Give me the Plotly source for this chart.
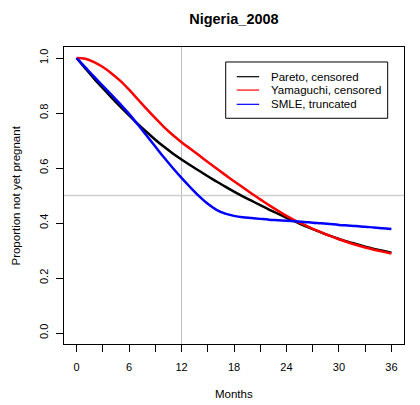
import plotly.graph_objects as go

# Months since start of exposure
months = list(range(0, 37))

# Survival curves: proportion not yet pregnant
pareto_censored = [1.000, 0.962, 0.925, 0.890, 0.856, 0.823, 0.791, 0.760, 0.731, 0.703,
                   0.677, 0.653, 0.631, 0.610, 0.590, 0.570, 0.551, 0.532, 0.514, 0.497,
                   0.481, 0.465, 0.449, 0.434, 0.419, 0.405, 0.391, 0.378, 0.365, 0.353,
                   0.342, 0.332, 0.323, 0.314, 0.306, 0.299, 0.292]
yamaguchi_censored = [1.000, 0.997, 0.985, 0.967, 0.944, 0.917, 0.885, 0.850, 0.815, 0.781,
                      0.749, 0.720, 0.694, 0.670, 0.646, 0.622, 0.598, 0.575, 0.552, 0.530,
                      0.507, 0.486, 0.465, 0.445, 0.426, 0.409, 0.394, 0.379, 0.366, 0.353,
                      0.341, 0.330, 0.320, 0.311, 0.303, 0.296, 0.289]
smle_truncated = [1.000, 0.966, 0.932, 0.899, 0.866, 0.832, 0.797, 0.758, 0.718, 0.678,
                  0.638, 0.600, 0.564, 0.530, 0.498, 0.470, 0.448, 0.434, 0.426, 0.421,
                  0.418, 0.415, 0.412, 0.410, 0.408, 0.406, 0.404, 0.401, 0.399, 0.396,
                  0.393, 0.391, 0.389, 0.386, 0.384, 0.381, 0.378]

series_names = ["Pareto, censored", "Yamaguchi, censored", "SMLE, truncated"]
series_colors = ["black", "red", "blue"]

x_tick_vals = list(range(0, 37, 3))
x_tick_text = ["0", "", "6", "", "12", "", "18", "", "24", "", "30", "", "36"]
y_tick_vals = [0.0, 0.2, 0.4, 0.6, 0.8, 1.0]
y_tick_text = ["0.0", "0.2", "0.4", "0.6", "0.8", "1.0"]

x_title = "Months"
y_title = "Proportion not yet pregnant"

ref_month = 12
ref_prop = 0.5

FONT = "Liberation Sans, Arial, sans-serif"

fig = go.Figure()

for name, color, ys in zip(series_names, series_colors,
                           [pareto_censored, yamaguchi_censored, smle_truncated]):
    fig.add_trace(go.Scatter(
        x=months, y=ys, mode="lines", name=name, showlegend=False,
        line=dict(color=color, width=2.5, shape="spline", smoothing=1.0),
    ))

# Grey reference lines
fig.add_shape(type="line", xref="x", yref="paper", x0=ref_month, x1=ref_month, y0=0, y1=1,
              line=dict(color="#bdbdbd", width=1), layer="below")
fig.add_shape(type="line", xref="paper", yref="y", x0=0, x1=1, y0=ref_prop, y1=ref_prop,
              line=dict(color="#cfcfcf", width=1.6), layer="below")

# Boxed key in the upper right of the panel
key_left, key_right, key_top, key_bottom = 0.4756, 0.952, 0.9495, 0.760
fig.add_shape(type="rect", xref="paper", yref="paper",
              x0=key_left, x1=key_right, y0=key_bottom, y1=key_top,
              line=dict(color="black", width=1), fillcolor="white", layer="above")
key_rows = [0.900, 0.855, 0.807]
for name, color, ky in zip(series_names, series_colors, key_rows):
    fig.add_shape(type="line", xref="paper", yref="paper",
                  x0=0.508, x1=0.574, y0=ky, y1=ky,
                  line=dict(color=color, width=1.2), layer="above")
    fig.add_annotation(xref="paper", yref="paper", x=0.6038, y=ky, text=name,
                       showarrow=False, xanchor="left", yanchor="middle",
                       font=dict(size=11.5, family=FONT, color="black"))

# Axis titles
fig.add_annotation(xref="paper", yref="paper", x=0.5, y=-0.168, text=x_title,
                   showarrow=False, xanchor="center", yanchor="middle",
                   font=dict(size=11.5, family=FONT, color="black"))
fig.add_annotation(xref="paper", yref="paper", x=-0.144, y=0.5, text=y_title,
                   textangle=-90, showarrow=False, xanchor="center", yanchor="middle",
                   font=dict(size=11.5, family=FONT, color="black"))

fig.update_layout(
    width=420, height=405,
    margin=dict(l=64, r=16, t=47, b=61, autoexpand=False),
    paper_bgcolor="white", plot_bgcolor="white",
    font=dict(family=FONT, size=11, color="black"),
    title=dict(text="<b>Nigeria_2008</b>", x=0.557, xanchor="center", y=0.953, yanchor="middle",
               font=dict(size=14.5, family=FONT)),
    showlegend=False,
    xaxis=dict(range=[-1.44, 37.44], tickvals=x_tick_vals, ticktext=x_tick_text,
               ticks="outside", ticklen=7, tickwidth=1, tickcolor="black",
               ticklabelstandoff=6, automargin=False,
               showline=True, linecolor="black", linewidth=1, mirror=True,
               showgrid=False, zeroline=False),
    yaxis=dict(range=[-0.04, 1.04], tickvals=y_tick_vals, ticktext=y_tick_text,
               tickangle=-90, ticklabelstandoff=4, automargin=False,
               ticks="outside", ticklen=7, tickwidth=1, tickcolor="black",
               showline=True, linecolor="black", linewidth=1, mirror=True,
               showgrid=False, zeroline=False),
)

fig.write_html("out.html")
